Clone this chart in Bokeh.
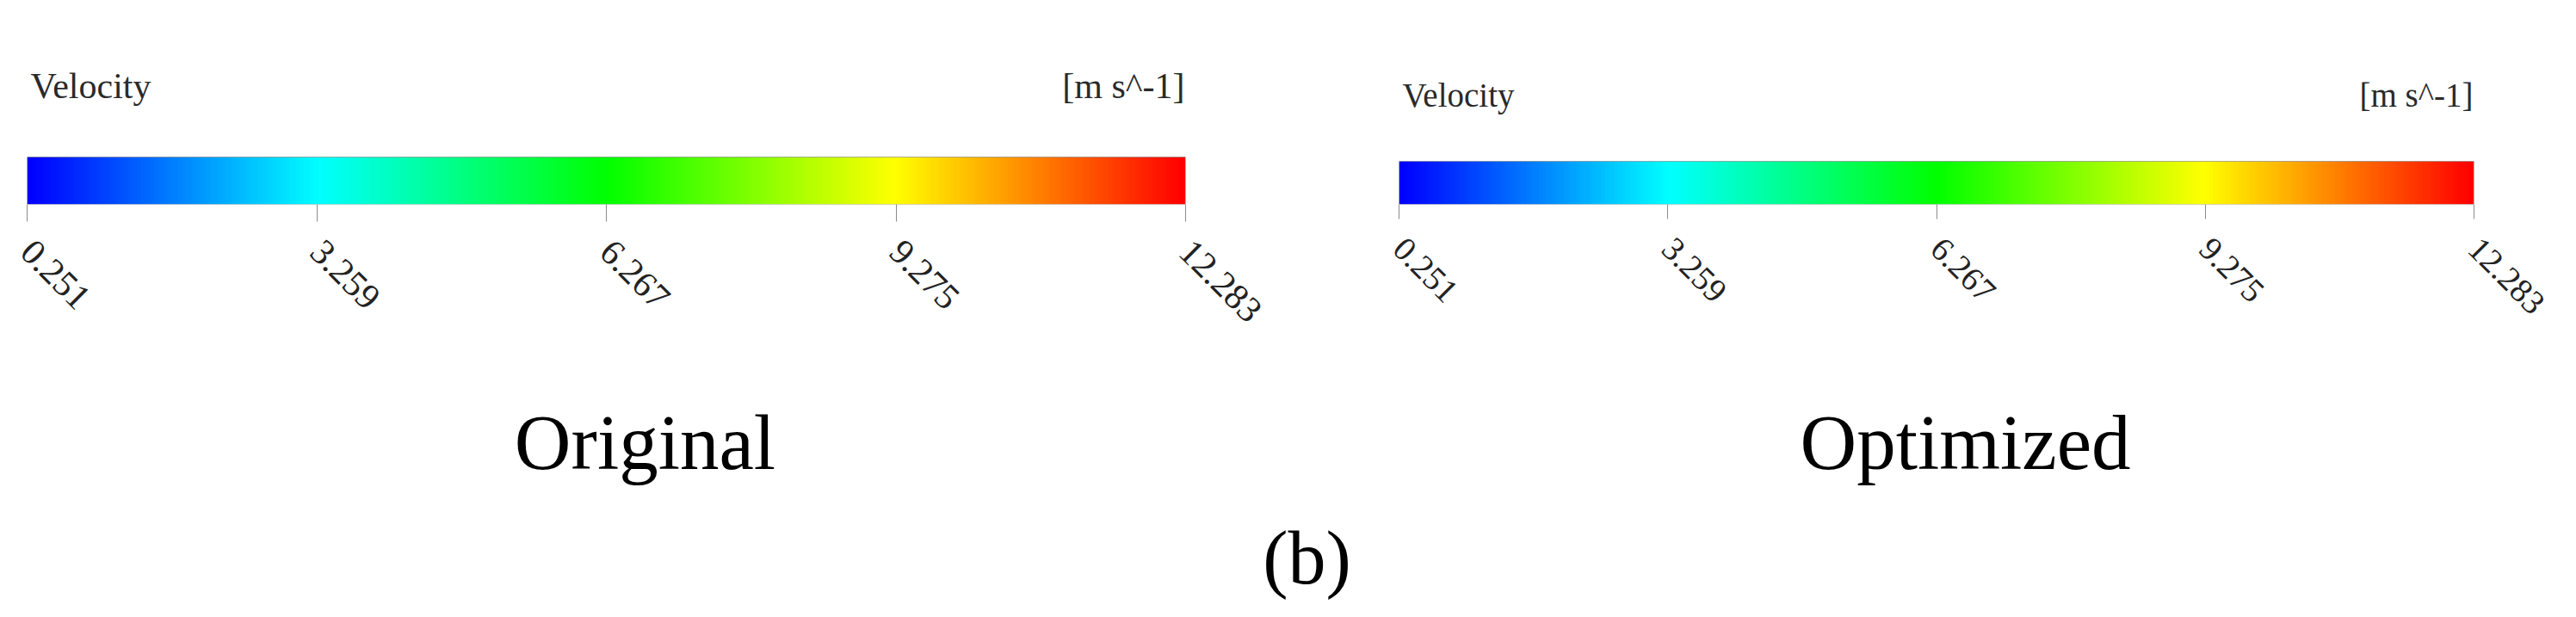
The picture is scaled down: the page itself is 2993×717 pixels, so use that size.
import math
import numpy as np
from bokeh.plotting import figure
from bokeh.layouts import row, column
from bokeh.models import Range1d, LinearColorMapper, FixedTicker
from bokeh.core.properties import value
from bokeh.embed import file_html
from bokeh.resources import INLINE

# ---- data ----
tick_values = [0.251, 3.259, 6.267, 9.275, 12.283]
tick_labels = ["0.251", "3.259", "6.267", "9.275", "12.283"]
variable_name = "Velocity"
unit_label = "[m s^-1]"
panel_names = ["Original", "Optimized"]
sub_label = "(b)"

# colour ramp anchors (blue -> cyan -> green -> yellow -> red)
ramp_anchors = [(0, 0, 255), (0, 255, 255), (0, 255, 0), (255, 255, 0), (255, 0, 0)]


def build_palette(anchors, n=256):
    cols = []
    k = len(anchors) - 1
    for i in range(n):
        t = i / (n - 1) * k
        j = min(int(t), k - 1)
        f = t - j
        a, b = anchors[j], anchors[j + 1]
        c = [round(a[m] + (b[m] - a[m]) * f) for m in range(3)]
        cols.append("#%02x%02x%02x" % tuple(c))
    return cols


palette = build_palette(ramp_anchors)
vmin, vmax = tick_values[0], tick_values[-1]
FONT = "Liberation Serif"

TOP_H = 450      # height of the colour-bar row
FRAME_H = 237    # frame: from top of page down to the bar's lower edge


def make_panel(width, b_left, b_right, bar_h, lab_size, tick_len, head_y):
    p = figure(width=width, height=TOP_H, x_range=Range1d(vmin, vmax),
               y_range=Range1d(0, FRAME_H), title=None,
               min_border_left=b_left, min_border_right=b_right, min_border_top=0,
               min_border_bottom=TOP_H - FRAME_H,
               y_axis_location=None, toolbar_location=None, output_backend="svg")
    p.background_fill_color = "white"
    p.border_fill_color = "white"
    p.outline_line_color = None
    p.xgrid.visible = False
    p.ygrid.visible = False

    mapper = LinearColorMapper(palette=palette, low=vmin, high=vmax)
    ramp = np.linspace(vmin, vmax, 600).reshape(1, -1)
    p.image(image=[ramp], x=vmin, y=0, dw=vmax - vmin, dh=bar_h, color_mapper=mapper)
    p.quad(left=[vmin], right=[vmax], bottom=[0], top=[bar_h], fill_color=None,
           line_color="#7a7a7a", line_alpha=0.6, line_width=1)

    ax = p.xaxis[0]
    ax.ticker = FixedTicker(ticks=tick_values, minor_ticks=[])
    ax.major_label_overrides = {v: s for v, s in zip(tick_values, tick_labels)}
    ax.major_label_orientation = -math.pi / 4
    ax.major_label_text_font = FONT
    ax.major_label_text_font_size = f"{lab_size}px"
    ax.major_label_text_color = "#222222"
    ax.major_label_standoff = 28
    ax.axis_line_color = None
    ax.major_tick_in = 0
    ax.major_tick_out = tick_len
    ax.major_tick_line_color = "#8c8c8c"
    ax.minor_tick_line_color = None

    p.text(x=[vmin], y=[head_y], text=[variable_name], x_offset=4,
           text_font=value(FONT), text_font_size=f"{lab_size}px", text_color="#2a2a2a",
           text_align="left", text_baseline="alphabetic")
    p.text(x=[vmax], y=[head_y], text=[unit_label], x_offset=-1,
           text_font=value(FONT), text_font_size=f"{lab_size}px", text_color="#2a2a2a",
           text_align="right", text_baseline="alphabetic")
    return p


left = make_panel(1500, 31, 123, 55, 42, 20, 138)
right = make_panel(1493, 125, 119, 50, 39, 17, 127)

# bottom captions (frame in pixels of this strip, y measured from its bottom)
BOT_W, BOT_H = 2993, 717 - TOP_H
cap = figure(width=BOT_W, height=BOT_H, x_range=Range1d(0, BOT_W), y_range=Range1d(0, BOT_H),
             title=None, min_border=0, x_axis_location=None, y_axis_location=None,
             toolbar_location=None, output_backend="svg")
cap.outline_line_color = None
cap.xgrid.visible = False
cap.ygrid.visible = False
cap.text(x=[749, 2283], y=[203, 203], text=panel_names,
         text_font=value(FONT), text_font_size="91px", text_color="black",
         text_align="center", text_baseline="alphabetic")
cap.text(x=[1518], y=[69], text=[sub_label],
         text_font=value(FONT), text_font_size="88px", text_color="black",
         text_align="center", text_baseline="alphabetic")

layout = column(row(left, right), cap)
open("out.html", "w").write(file_html(layout, INLINE))
